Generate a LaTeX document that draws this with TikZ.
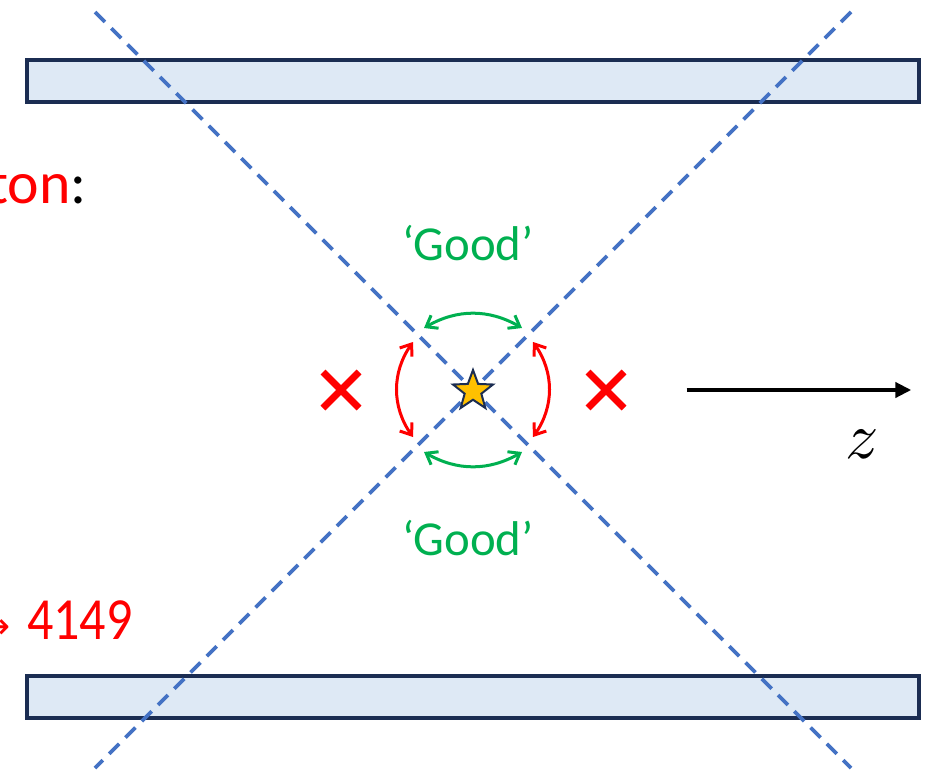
\documentclass[tikz,border=0pt]{standalone}
\usepackage{fontspec}
\usepackage{unicode-math}
\setmainfont{Carlito}
\setmathfont{Latin Modern Math}
\newfontfamily\symfont{DejaVu Sans}
\newfontfamily\narrowfont[FakeStretch=0.87]{Carlito}
\usetikzlibrary{arrows.meta,shapes.geometric}
\definecolor{plateline}{HTML}{1B2D52}
\definecolor{platefill}{HTML}{DEE9F5}
\definecolor{dashblue}{HTML}{4472C4}
\definecolor{goodgreen}{HTML}{00B050}
\definecolor{badred}{HTML}{FF0000}
\definecolor{stargold}{HTML}{FFC000}
\tikzset{
  plate/.style={draw=plateline,fill=platefill,line width=4bp},
  guide/.style={dashblue,line width=3.8bp,dash pattern=on 14bp off 9bp},
  swing/.style={line width=3bp,{Straight Barb[length=10bp,width=15bp]}-{Straight Barb[length=10bp,width=15bp]}},
  cross/.style={badred,line width=7bp},
  lbl/.style={inner sep=0pt,font=\fontsize{49}{56}\selectfont},
  biglbl/.style={inner sep=0pt,font=\fontsize{60}{70}\selectfont},
}
\begin{document}
\begin{tikzpicture}[x=1bp,y=-1bp]
\useasboundingbox (0,0) rectangle (933,770);
% plates
\node[plate,minimum width=892bp,minimum height=42bp,anchor=center] (topplate) at (473,81) {};
\node[plate,minimum width=892bp,minimum height=42bp,anchor=center] (botplate) at (473,697) {};
% dashed guides
\coordinate (tl) at (95,12);
\coordinate (br) at (851,768);
\coordinate (tr) at (851,12);
\coordinate (bl) at (95,768);
\draw[guide] (tl) -- (br);
\draw[guide] (tr) -- (bl);
% star
\node[star,star points=5,star point ratio=2.4,draw=plateline,fill=stargold,line width=2bp,minimum size=42bp,inner sep=0pt] (src) at (473,391) {};
% arcs
\coordinate (a1) at (424,328);
\coordinate (a2) at (522,328);
\coordinate (a3) at (424,452);
\coordinate (a4) at (522,452);
\coordinate (r1) at (413,342);
\coordinate (r2) at (413,437);
\coordinate (r3) at (533,342);
\coordinate (r4) at (533,437);
\draw[swing,goodgreen] (a1) to[bend left=30] (a2);
\draw[swing,goodgreen] (a3) to[bend right=30] (a4);
\draw[swing,badred] (r1) to[bend right=35] (r2);
\draw[swing,badred] (r3) to[bend left=35] (r4);
% crosses
\coordinate (xl) at (341,390);
\coordinate (xr) at (606,390);
\draw[cross] ([shift={(-18,-18)}]xl) -- ([shift={(18,18)}]xl) ([shift={(-18,18)}]xl) -- ([shift={(18,-18)}]xl);
\draw[cross] ([shift={(-18,-18)}]xr) -- ([shift={(18,18)}]xr) ([shift={(-18,18)}]xr) -- ([shift={(18,-18)}]xr);
% texts
\node[lbl,text=goodgreen] (goodtop) at (468,243) {‘Good’};
\node[lbl,text=goodgreen] (goodbot) at (468,538) {‘Good’};
\node[biglbl,anchor=base west] (ton) at (-12,203) {\textcolor{badred}{ton}:};
\node[inner sep=0pt,anchor=base east,text=badred,font=\symfont\fontsize{36}{40}\selectfont] (numarrow) at (11,638) {→};
\node[biglbl,anchor=base west,text=badred,font=\narrowfont\fontsize{60}{70}\selectfont] (num) at (27,639) {4149};
% z axis
\node[inner sep=0pt] (zstart) at (686,390) {};
\node[inner sep=0pt] (zend) at (912,390) {};
\draw[line width=4bp,-{Triangle[length=16bp,width=15bp]}] (zstart) -- (zend);
\node[inner sep=0pt,font=\fontsize{66}{70}\selectfont] (zlbl) at (862,444) {$z$};
\end{tikzpicture}
\end{document}
